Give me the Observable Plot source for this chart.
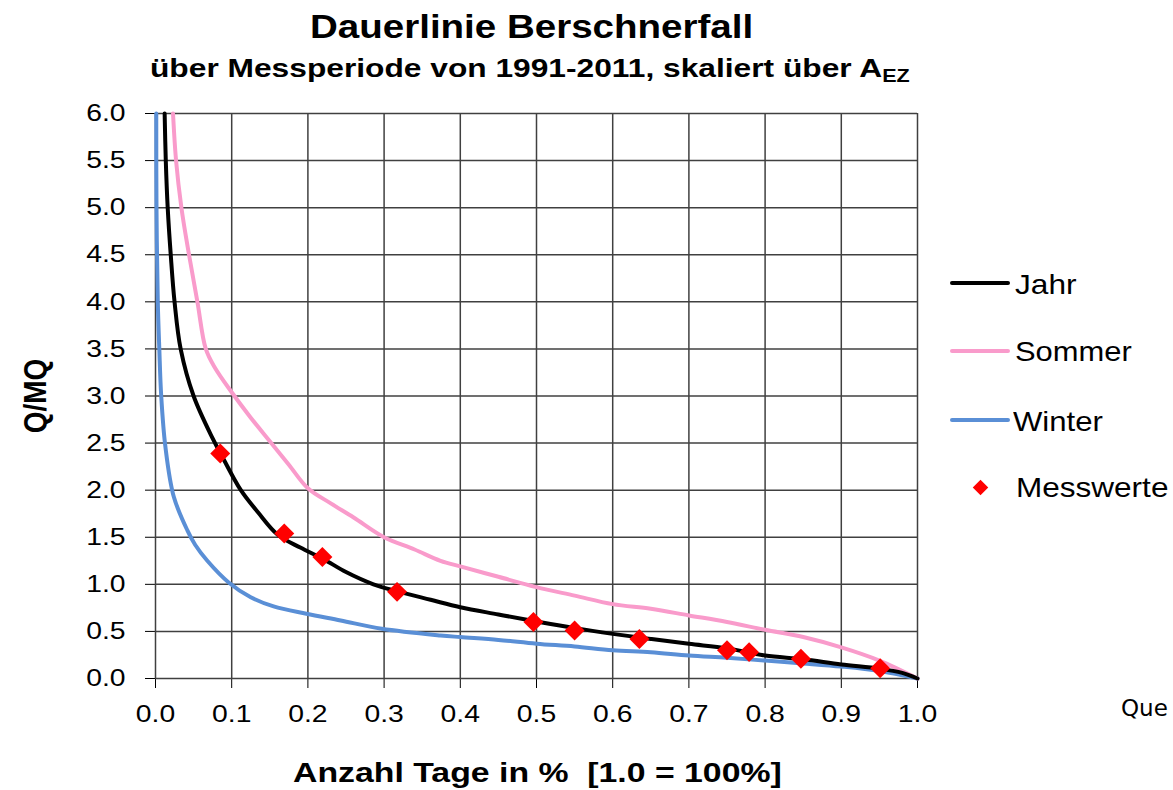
<!DOCTYPE html>
<html><head><meta charset="utf-8">
<script src="https://cdn.jsdelivr.net/npm/d3@7"></script>
<script src="https://cdn.jsdelivr.net/npm/@observablehq/plot@0.6"></script>
<style>
html,body{margin:0;padding:0;background:#fff;overflow:hidden;}
#wrap{position:relative;width:1173px;height:790px;overflow:hidden;font-family:'Liberation Sans',Arial,sans-serif;color:#000;}
#wrap > svg{position:absolute;left:0;top:0;}
.t{position:absolute;white-space:nowrap;line-height:1;}
</style></head><body><div id="wrap"></div>
<script>
// ---- data ----
const xTicks = [0,0.1,0.2,0.3,0.4,0.5,0.6,0.7,0.8,0.9,1.0];
const yTicks = [0,0.5,1.0,1.5,2.0,2.5,3.0,3.5,4.0,4.5,5.0,5.5,6.0];
const jahr = [[0.012,6.0],[0.0135,5.5],[0.016,5.0],[0.020,4.5],[0.025,4.0],[0.033,3.5],[0.050,3.0],[0.075,2.55],[0.088,2.35],[0.112,2.0],[0.135,1.76],[0.16,1.53],[0.19,1.39],[0.22,1.27],[0.25,1.13],[0.286,1.0],[0.32,0.92],[0.361,0.836],[0.40,0.757],[0.45,0.68],[0.5,0.605],[0.55,0.535],[0.6,0.474],[0.65,0.42],[0.7,0.368],[0.75,0.32],[0.8,0.244],[0.85,0.205],[0.9,0.149],[0.95,0.105],[0.98,0.06],[1.0,0.0]];
const sommer = [[0.023,6.0],[0.027,5.5],[0.034,5.0],[0.044,4.5],[0.055,4.0],[0.066,3.5],[0.078,3.3],[0.1,3.04],[0.125,2.77],[0.15,2.52],[0.175,2.27],[0.2,2.02],[0.23,1.86],[0.26,1.71],[0.30,1.5],[0.34,1.37],[0.374,1.25],[0.4,1.19],[0.45,1.08],[0.5,0.97],[0.55,0.88],[0.6,0.79],[0.65,0.74],[0.7,0.67],[0.75,0.6],[0.8,0.517],[0.85,0.44],[0.9,0.33],[0.95,0.19],[1.0,0.0]];
const winter = [[0.001,6.0],[0.0013,5.0],[0.003,4.0],[0.005,3.5],[0.0075,3.0],[0.013,2.46],[0.024,1.93],[0.042,1.57],[0.052,1.42],[0.068,1.25],[0.096,1.02],[0.125,0.863],[0.155,0.765],[0.198,0.687],[0.243,0.616],[0.297,0.528],[0.374,0.457],[0.4,0.44],[0.45,0.41],[0.5,0.37],[0.55,0.34],[0.6,0.30],[0.65,0.28],[0.7,0.244],[0.75,0.22],[0.8,0.19],[0.85,0.16],[0.9,0.127],[0.95,0.08],[1.0,0.0]];
const messwerte = [[0.085,2.39],[0.169,1.54],[0.219,1.29],[0.317,0.92],[0.496,0.60],[0.55,0.51],[0.635,0.42],[0.75,0.30],[0.779,0.28],[0.847,0.21],[0.951,0.11]];
const seriesNames = ["Jahr","Sommer","Winter","Messwerte"];
const colors = {Jahr:"#000000", Sommer:"#F99BCB", Winter:"#5A8FD6", Messwerte:"#FF0000"};
const titleText = "Dauerlinie Berschnerfall";
const subtitleText = "über Messperiode von 1991-2011, skaliert über A<span style='font-size:0.68em;vertical-align:-0.28em'>EZ</span>";
const xLabel = "Anzahl Tage in %&nbsp; [1.0 = 100%]";
const yLabel = "Q/MQ";
const sourceText = "Que";

const wrap = document.getElementById("wrap");
const fmt = d => d.toFixed(1);

const chart = Plot.plot({
  width: 1173, height: 790,
  marginTop: 113, marginLeft: 155, marginRight: 256, marginBottom: 112,
  x: {domain: [0, 1], ticks: xTicks, tickFormat: fmt, tickSize: 10, tickPadding: 16, label: null},
  y: {domain: [0, 6], ticks: yTicks, tickFormat: fmt, tickSize: 10, tickPadding: 20, label: null},
  style: {fontFamily: "'Liberation Sans', Arial, sans-serif", fontSize: "24px", color: "#000", background: "transparent", overflow: "visible"},
  marks: [
    Plot.ruleX(xTicks, {stroke: "#404040", strokeWidth: 1.5}),
    Plot.ruleY(yTicks, {stroke: "#404040", strokeWidth: 1.5}),
    Plot.line(winter, {stroke: colors.Winter, strokeWidth: 4, curve: "catmull-rom"}),
    Plot.line(sommer, {stroke: colors.Sommer, strokeWidth: 4, curve: "catmull-rom"}),
    Plot.line(jahr, {stroke: colors.Jahr, strokeWidth: 4, curve: "catmull-rom"}),
    Plot.dot(messwerte, {symbol: "diamond2", r: 9, fill: colors.Messwerte, stroke: "none"})
  ]
});
wrap.appendChild(chart);
// horizontal stretch of tick labels (reference is horizontally stretched)
chart.querySelectorAll("text").forEach(t => {
  const w = t.getComputedTextLength();
  if (w > 0) { t.setAttribute("textLength", w * 1.18); t.setAttribute("lengthAdjust", "spacingAndGlyphs"); }
});

function addText(html, o) {
  const s = document.createElement("span");
  s.className = "t"; s.innerHTML = html;
  s.style.fontSize = o.size + "px";
  s.style.fontWeight = o.weight || "normal";
  if (o.family) s.style.fontFamily = o.family;
  wrap.appendChild(s);
  const w = s.offsetWidth;
  const k = o.right ? (o.right - o.left) / w : (o.k || 1);
  s.style.left = o.left + "px";
  s.style.top = (o.baseline - (o.asc || 0.8465) * o.size) + "px";
  s.style.transformOrigin = "0 0";
  s.style.transform = `scaleX(${k})`;
  return s;
}
addText(titleText, {left: 310, right: 753, baseline: 37.5, size: 34, weight: "bold"});
addText(subtitleText, {left: 150, right: 910, baseline: 77, size: 26, weight: "bold"});
addText(xLabel, {left: 293, right: 782, baseline: 783, size: 28, weight: "bold"});
addText(sourceText, {left: 1121, baseline: 718, size: 23, family: "'DejaVu Sans', sans-serif", asc: 0.9});

// rotated y label
{
  const s = document.createElement("span");
  s.className = "t"; s.textContent = yLabel;
  s.style.fontSize = "28px"; s.style.fontWeight = "bold";
  s.style.left = "36px"; s.style.top = "396px";
  s.style.transform = "translate(-50%,-50%) rotate(-90deg) scale(1,1.15)";
  wrap.appendChild(s);
}

// legend
const legendRows = [
  {name: "Jahr", lineY: 283, baseline: 295, left: 1015, right: 1076},
  {name: "Sommer", lineY: 351, baseline: 362, left: 1015, right: 1132},
  {name: "Winter", lineY: 420, baseline: 432, left: 1013, right: 1103},
  {name: "Messwerte", lineY: 487, baseline: 498, left: 1016, right: 1168}
];
legendRows.forEach(r => {
  const sw = document.createElement("div");
  sw.style.position = "absolute";
  if (r.name === "Messwerte") {
    sw.style.left = (980 - 5.5) + "px"; sw.style.top = (r.lineY - 5.5) + "px";
    sw.style.width = "11px"; sw.style.height = "11px";
    sw.style.background = colors[r.name]; sw.style.transform = "rotate(45deg)";
  } else {
    sw.style.left = "950px"; sw.style.top = (r.lineY - 2) + "px";
    sw.style.width = "60px"; sw.style.height = "4px"; sw.style.borderRadius = "2px";
    sw.style.background = colors[r.name];
  }
  wrap.appendChild(sw);
  addText(r.name, {left: r.left, right: r.right, baseline: r.baseline, size: 28});
});
</script>
</body></html>
